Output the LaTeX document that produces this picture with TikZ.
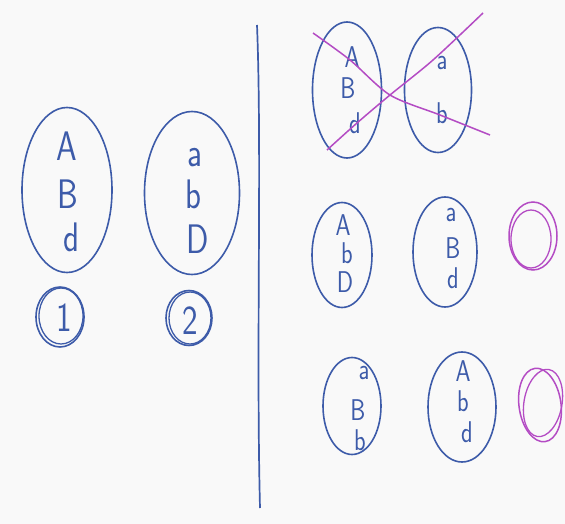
\documentclass[tikz,border=0pt]{standalone}
\usetikzlibrary{shapes.geometric}
\definecolor{ink}{HTML}{3D5BA9}
\definecolor{pen}{HTML}{B44CC4}
\definecolor{paper}{HTML}{F9F9F9}
\tikzset{
  blob/.style={ellipse, draw=ink, line width=1.6pt, inner sep=0pt},
  ring/.style={ellipse, draw=pen, line width=1.5pt, inner sep=0pt},
  big/.style={text=ink, inner sep=0pt, font=\sffamily\fontsize{33}{33}\selectfont},
  small/.style={text=ink, inner sep=0pt, font=\sffamily\fontsize{24}{24}\selectfont},
  strike/.style={draw=pen, line width=1.5pt},
  rule/.style={draw=ink, line width=1.7pt}
}
\newcommand{\tall}[1]{\scalebox{1}[1.25]{#1}}
\begin{document}
\begin{tikzpicture}[x=1pt,y=-1pt]
\fill[paper] (0,0) rectangle (565,524);
\useasboundingbox (0,0) rectangle (565,524);
% divider
\coordinate (top) at (257,25);
\coordinate (bot) at (260,508);
\draw[rule] (top) .. controls (262,150) and (256,350) .. (bot);
% left groups
\node[blob, minimum width=90, minimum height=165] (L1) at (67,190) {};
\node[big] (L1a) at (67,146) {\tall{A}};
\node[big] (L1b) at (68,194) {\tall{B}};
\node[big] (L1c) at (71,237) {\tall{d}};
\node[blob, minimum width=95, minimum height=163] (L2) at (192,193) {};
\node[big] (L2a) at (195,158) {\tall{a}};
\node[big] (L2b) at (193,194) {\tall{b}};
\node[big] (L2c) at (198,239) {\tall{D}};
\node[blob, minimum width=48, minimum height=60] (C1) at (60,317) {};
\draw[ink, line width=1.3pt] (61,316) ellipse [x radius=22, y radius=28];
\node[big] (n1) at (64,318) {\tall{1}};
\node[blob, minimum width=46, minimum height=55] (C2) at (189,318) {};
\draw[ink, line width=1.3pt] (190,318) ellipse [x radius=21, y radius=26];
\node[big] (n2) at (190,321) {\tall{2}};
% right top (crossed)
\node[blob, minimum width=69, minimum height=136] (T1) at (347,90) {};
\node[small] (T1a) at (352,57) {\tall{A}};
\node[small] (T1b) at (348,88) {\tall{B}};
\node[small] (T1c) at (355,123) {\tall{d}};
\node[blob, minimum width=67, minimum height=125] (T2) at (438,90) {};
\node[small] (T2a) at (442,63) {\tall{a}};
\node[small] (T2b) at (442,113) {\tall{b}};
\draw[strike] plot[smooth] coordinates {(313,33) (350,60) (390,95) (440,115) (490,135)};
\draw[strike] plot[smooth] coordinates {(327,150) (357,123) (390,95) (433,60) (483,13)};
% right middle
\node[blob, minimum width=60, minimum height=105] (M1) at (342,255) {};
\node[small] (M1a) at (343,225) {\tall{A}};
\node[small] (M1b) at (347,253) {\tall{b}};
\node[small] (M1c) at (345,282) {\tall{D}};
\node[blob, minimum width=64, minimum height=110] (M2) at (445,252) {};
\node[small] (M2a) at (451,215) {\tall{a}};
\node[small] (M2b) at (453,248) {\tall{B}};
\node[small] (M2c) at (453,278) {\tall{d}};
\node[ring, minimum width=48, minimum height=68] (R1) at (533,236) {};
\draw[pen, line width=1.3pt] (531,239) ellipse [x radius=20, y radius=29];
% right bottom
\node[blob, minimum width=58, minimum height=97] (B1) at (352,406) {};
\node[small] (B1a) at (364,373) {\tall{a}};
\node[small] (B1b) at (358,410) {\tall{B}};
\node[small] (B1c) at (360,440) {\tall{b}};
\node[blob, minimum width=68, minimum height=110] (B2) at (462,407) {};
\node[small] (B2a) at (463,371) {\tall{A}};
\node[small] (B2b) at (463,401) {\tall{b}};
\node[small] (B2c) at (467,432) {\tall{d}};
\node[ring, rotate=8, minimum width=42, minimum height=74] (R2) at (540,405) {};
\draw[pen, line width=1.3pt, rotate around={-10:(543,403)}] (543,403) ellipse [x radius=19, y radius=34];
\end{tikzpicture}
\end{document}
